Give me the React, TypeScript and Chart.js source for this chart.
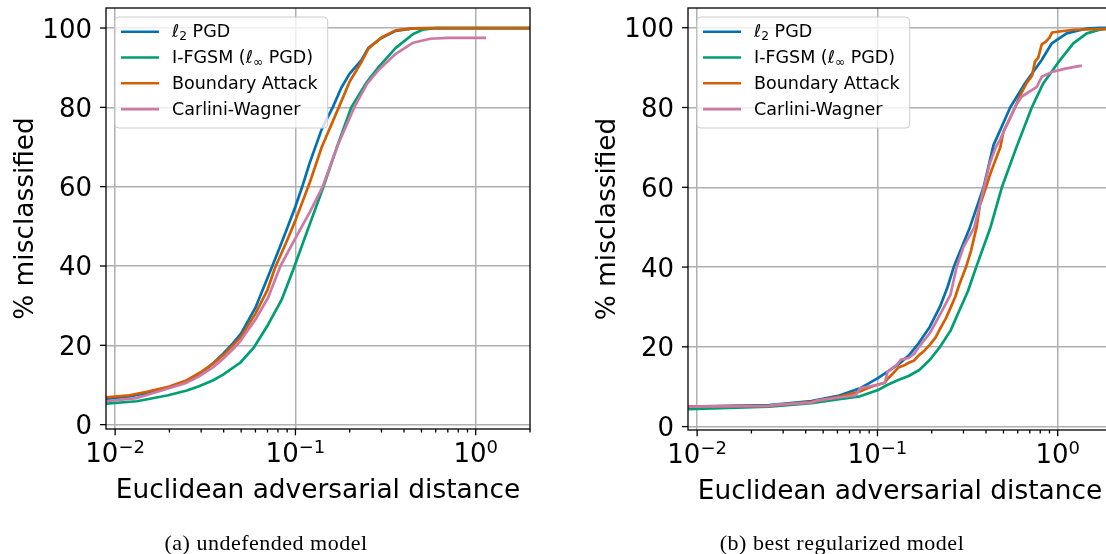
import React, { useEffect, useRef } from "react";
import { Chart, registerables } from "chart.js";
Chart.register(...registerables);

// ---------- data ----------
const SERIES_NAMES = ["ℓ2 PGD", "I-FGSM (ℓ∞ PGD)", "Boundary Attack", "Carlini-Wagner"];
const COLORS = ["#0072B2", "#009E73", "#D55E00", "#CC79A7"];
const Y_TICKS = [0, 20, 40, 60, 80, 100];
const X_MAJOR = [0.01, 0.1, 1];
const X_MAJOR_EXP = ["−2", "−1", "0"];
const X_MINOR = [0.02, 0.03, 0.04, 0.05, 0.06, 0.07, 0.08, 0.09, 0.2, 0.3, 0.4, 0.5, 0.6, 0.7, 0.8, 0.9, 2];
const X_TITLE = "Euclidean adversarial distance";
const Y_TITLE = "% misclassified";
const CAPTIONS = ["(a) undefended model", "(b) best regularized model"];

// (a) undefended model
const A_L2_X = [0.0089, 0.012, 0.015, 0.02, 0.025, 0.03, 0.035, 0.04, 0.045, 0.05, 0.06, 0.07, 0.08, 0.09, 0.1, 0.11, 0.12, 0.14, 0.161, 0.18, 0.2, 0.233, 0.254, 0.3, 0.36, 0.45, 0.6, 2];
const A_L2_Y = [6.5, 7.1, 8.0, 9.5, 11.0, 13.0, 15.5, 18.0, 20.5, 23.0, 29.5, 37.0, 43.5, 49.5, 55.0, 60.5, 66.0, 74.5, 80.0, 85.0, 88.5, 92.0, 95.0, 97.5, 99.3, 99.9, 100, 100];
const A_FGSM_X = [0.0089, 0.0132, 0.0197, 0.025, 0.0292, 0.035, 0.0397, 0.0494, 0.0589, 0.0705, 0.0839, 0.098, 0.12, 0.143, 0.17, 0.204, 0.25, 0.29, 0.36, 0.45, 0.51, 0.6, 2];
const A_FGSM_Y = [5.3, 5.9, 7.4, 8.6, 9.7, 11.2, 12.6, 15.6, 19.5, 25.2, 31.5, 39.5, 50.5, 60.0, 70.0, 80.0, 86.5, 90.2, 95.0, 98.5, 99.6, 100, 100];
const A_BA_X = [0.0089, 0.012, 0.015, 0.02, 0.025, 0.03, 0.035, 0.04, 0.045, 0.05, 0.06, 0.07, 0.077, 0.09, 0.1, 0.12, 0.14, 0.174, 0.2, 0.233, 0.254, 0.3, 0.36, 0.45, 0.6, 2];
const A_BA_Y = [6.9, 7.4, 8.3, 9.6, 11.2, 13.3, 15.4, 17.6, 20.0, 22.2, 28.0, 34.0, 39.5, 46.5, 51.5, 61.0, 70.0, 80.0, 86.5, 91.5, 94.8, 97.6, 99.4, 99.9, 100, 100];
const A_CW_X = [0.0089, 0.0132, 0.0197, 0.025, 0.0292, 0.035, 0.0397, 0.045, 0.0494, 0.06, 0.0705, 0.0826, 0.1, 0.12, 0.1416, 0.17, 0.212, 0.25, 0.29, 0.36, 0.45, 0.56, 0.7, 1.14];
const A_CW_Y = [5.9, 6.7, 9.1, 10.6, 12.2, 14.5, 16.6, 19.0, 21.0, 26.5, 32.0, 40.0, 47.0, 53.5, 60.0, 70.0, 80.0, 86.0, 89.5, 93.5, 96.3, 97.3, 97.5, 97.5];

// (b) best regularized model
const B_L2_X = [0.0089, 0.0251, 0.043, 0.0614, 0.08, 0.1, 0.114, 0.1305, 0.149, 0.17, 0.195, 0.222, 0.245, 0.265, 0.326, 0.388, 0.44, 0.545, 0.659, 0.815, 0.927, 1.12, 1.45, 1.7, 2];
const B_L2_Y = [5.0, 5.4, 6.4, 7.8, 9.6, 12.1, 13.8, 15.6, 17.8, 21.0, 25.0, 30.0, 35.0, 40.0, 50.0, 60.0, 70.5, 80.0, 86.1, 91.9, 96.1, 98.6, 99.8, 100, 100];
const B_FGSM_X = [0.0089, 0.0251, 0.043, 0.0614, 0.08, 0.1, 0.114, 0.1305, 0.149, 0.1706, 0.195, 0.2225, 0.254, 0.284, 0.318, 0.353, 0.424, 0.49, 0.59, 0.718, 0.832, 1.03, 1.22, 1.45, 1.71, 2];
const B_FGSM_Y = [4.4, 5.0, 5.9, 6.9, 7.6, 9.1, 10.5, 11.7, 12.7, 14.2, 16.7, 20.0, 24.0, 29.0, 34.0, 40.0, 50.0, 60.0, 70.0, 80.0, 86.1, 91.9, 96.1, 98.6, 99.5, 99.9];
const B_BA_X = [0.0089, 0.025, 0.043, 0.0614, 0.08, 0.09, 0.1, 0.11, 0.114, 0.12, 0.1305, 0.14, 0.149, 0.16, 0.1706, 0.18, 0.195, 0.21, 0.2225, 0.24, 0.254, 0.27, 0.284, 0.31, 0.33, 0.355, 0.37, 0.4, 0.42, 0.44, 0.48, 0.5, 0.54, 0.58, 0.618, 0.67, 0.72, 0.748, 0.78, 0.815, 0.86, 0.9, 0.93, 1.0, 1.22, 2];
const B_BA_Y = [5.0, 5.2, 6.2, 7.5, 8.8, 9.8, 10.5, 11.0, 12.0, 13.0, 14.8, 15.3, 16.0, 16.6, 18.0, 18.8, 20.5, 22.3, 24.5, 27.2, 29.7, 32.5, 35.5, 40.0, 44.0, 50.0, 55.5, 60.0, 63.0, 65.5, 70.0, 74.0, 77.0, 80.0, 83.0, 86.0, 88.0, 91.5, 92.5, 95.8, 96.5, 97.5, 98.8, 99.0, 99.5, 99.7];
const B_CW_X = [0.0089, 0.0251, 0.028, 0.043, 0.046, 0.0614, 0.075, 0.078, 0.08, 0.1, 0.11, 0.112, 0.114, 0.128, 0.135, 0.149, 0.16, 0.17, 0.195, 0.222, 0.254, 0.275, 0.3, 0.345, 0.39, 0.42, 0.453, 0.48, 0.58, 0.63, 0.766, 0.815, 0.94, 1.12, 1.36];
const B_CW_Y = [5.0, 5.2, 5.5, 6.0, 6.5, 7.3, 7.8, 8.6, 9.6, 10.5, 11.0, 12.5, 13.8, 15.5, 16.8, 17.2, 18.3, 20.0, 23.4, 28.0, 33.0, 40.0, 45.0, 50.0, 60.0, 66.0, 70.0, 72.0, 80.2, 82.7, 85.2, 87.7, 89.0, 89.8, 90.5];

// ---------- styles ----------
const FONT = '"DejaVu Sans", sans-serif';
const TICK_FS = 26;
const SUP_FS = 18;
const TITLE_FS = 26.4;
const LEG_FS = 17.5;
const H = 554;

type Seg = { t: string; sub?: boolean };
const LEGEND_RICH: Seg[][] = [
  [{ t: "ℓ" }, { t: "2", sub: true }, { t: " PGD" }],
  [{ t: "I-FGSM (ℓ" }, { t: "∞", sub: true }, { t: " PGD)" }],
  [{ t: "Boundary Attack" }],
  [{ t: "Carlini-Wagner" }],
];

function zip(xs: number[], ys: number[]) {
  return xs.map((x, i) => ({ x, y: ys[i] }));
}

function drawRich(ctx: CanvasRenderingContext2D, segs: Seg[], x: number, y: number, measureOnly = false) {
  let cx = x;
  for (const s of segs) {
    const fs = s.sub ? LEG_FS * 0.7 : LEG_FS;
    ctx.font = `${fs}px ${FONT}`;
    if (!measureOnly) ctx.fillText(s.t, cx, s.sub ? y + LEG_FS * 0.22 : y);
    cx += ctx.measureText(s.t).width;
  }
  return cx - x;
}

const decorPlugin = {
  id: "decor",
  afterDraw(chart: any) {
    const { ctx, chartArea: a, scales } = chart;
    const xs = scales.x, ys = scales.y;
    ctx.save();
    ctx.strokeStyle = "#000";
    ctx.fillStyle = "#000";
    ctx.lineWidth = 1.3;
    // y ticks + labels
    ctx.font = `${TICK_FS}px ${FONT}`;
    ctx.textAlign = "right";
    ctx.textBaseline = "alphabetic";
    for (const v of Y_TICKS) {
      const py = ys.getPixelForValue(v);
      ctx.beginPath(); ctx.moveTo(a.left - 6, py); ctx.lineTo(a.left, py); ctx.stroke();
      ctx.fillText(String(v), a.left - 14, py + TICK_FS * 0.3645);
    }
    // x minor ticks
    for (const v of X_MINOR) {
      const px = xs.getPixelForValue(v);
      if (px < a.left - 0.5 || px > a.right + 0.5) continue;
      ctx.beginPath(); ctx.moveTo(px, a.bottom); ctx.lineTo(px, a.bottom + 3.5); ctx.stroke();
    }
    // x major ticks + labels
    ctx.textAlign = "left";
    X_MAJOR.forEach((v, i) => {
      const px = xs.getPixelForValue(v);
      ctx.beginPath(); ctx.moveTo(px, a.bottom); ctx.lineTo(px, a.bottom + 6.3); ctx.stroke();
      ctx.font = `${TICK_FS}px ${FONT}`;
      const w1 = ctx.measureText("10").width;
      ctx.font = `${SUP_FS}px ${FONT}`;
      const w2 = ctx.measureText(X_MAJOR_EXP[i]).width;
      const x0 = px - (w1 + w2) / 2;
      const base = a.bottom + 33;
      ctx.font = `${TICK_FS}px ${FONT}`;
      ctx.fillText("10", x0, base);
      ctx.font = `${SUP_FS}px ${FONT}`;
      ctx.fillText(X_MAJOR_EXP[i], x0 + w1, base - 9);
    });
    // spines
    ctx.lineWidth = 1.3;
    ctx.strokeRect(a.left, a.top, a.right - a.left, a.bottom - a.top);
    // titles
    ctx.font = `${TITLE_FS}px ${FONT}`;
    ctx.textAlign = "center";
    ctx.fillText(X_TITLE, (a.left + a.right) / 2, a.bottom + 69);
    ctx.save();
    ctx.translate(a.left - 73, (a.top + a.bottom) / 2);
    ctx.rotate(-Math.PI / 2);
    ctx.fillText(Y_TITLE, 0, 0);
    ctx.restore();
    // legend
    ctx.textAlign = "left";
    ctx.textBaseline = "middle";
    let maxW = 0;
    for (const segs of LEGEND_RICH) maxW = Math.max(maxW, drawRich(ctx, segs, 0, 0, true));
    const bx = a.left + 9, by = a.top + 9;
    const bw = 66 - 9 + maxW + 10;
    const bh = 111;
    ctx.beginPath();
    ctx.roundRect(bx, by, bw, bh, 4);
    ctx.fillStyle = "rgba(255,255,255,0.8)";
    ctx.fill();
    ctx.strokeStyle = "#cccccc";
    ctx.lineWidth = 1;
    ctx.stroke();
    LEGEND_RICH.forEach((segs, i) => {
      const ry = a.top + 23.7 + i * 25.8;
      ctx.strokeStyle = COLORS[i];
      ctx.lineWidth = 2.6;
      ctx.beginPath(); ctx.moveTo(a.left + 15, ry); ctx.lineTo(a.left + 53, ry); ctx.stroke();
      ctx.fillStyle = "#000";
      drawRich(ctx, segs, a.left + 66, ry + 1);
    });
    ctx.restore();
  },
};

type PanelProps = {
  series: { x: number[]; y: number[] }[];
  width: number;
  left: number;
  right: number;
  top: number;
  bottom: number;
  yMin: number;
  yMax: number;
};

function Panel(p: PanelProps) {
  const ref = useRef<HTMLCanvasElement>(null);
  useEffect(() => {
    if (!ref.current) return;
    const chart = new Chart(ref.current, {
      type: "line",
      data: {
        datasets: p.series.map((s, i) => ({
          label: SERIES_NAMES[i],
          data: zip(s.x, s.y),
          borderColor: COLORS[i],
          backgroundColor: COLORS[i],
          borderWidth: 2.7,
          pointRadius: 0,
          tension: 0,
          fill: false,
          borderJoinStyle: "round",
          order: 4 - i,
        })),
      },
      options: {
        responsive: false,
        animation: false,
        events: [],
        layout: { padding: { left: 0, top: p.top, right: p.width - p.right, bottom: 0 } },
        plugins: { legend: { display: false }, tooltip: { enabled: false } },
        scales: {
          x: {
            type: "logarithmic",
            min: 0.0089,
            max: 2,
            afterBuildTicks: (s: any) => {
              s.ticks = [...X_MAJOR, ...X_MINOR].map((v) => ({ value: v, major: X_MAJOR.includes(v) }));
            },
            afterFit: (s: any) => { s.height = H - p.bottom; },
            ticks: { display: false },
            border: { display: false },
            grid: {
              drawTicks: false,
              lineWidth: 1.5,
              color: (c: any) => (c.tick && X_MAJOR.includes(c.tick.value) ? "#b0b0b0" : "rgba(0,0,0,0)"),
            },
          },
          y: {
            type: "linear",
            min: p.yMin,
            max: p.yMax,
            afterBuildTicks: (s: any) => { s.ticks = Y_TICKS.map((v) => ({ value: v })); },
            afterFit: (s: any) => { s.width = p.left; },
            ticks: { display: false },
            border: { display: false },
            grid: { drawTicks: false, lineWidth: 1.5, color: "#b0b0b0" },
          },
        },
      },
      plugins: [decorPlugin],
    } as any);
    return () => chart.destroy();
  }, []);
  return <canvas ref={ref} width={p.width} height={H} style={{ display: "block", width: p.width, height: H }} />;
}

export default function App() {
  const capStyle: React.CSSProperties = {
    position: "absolute",
    top: 529,
    width: 400,
    textAlign: "center",
    fontFamily: '"Liberation Serif", serif',
    fontSize: 22,
    lineHeight: "28px",
    letterSpacing: 0.5,
    color: "#000",
    whiteSpace: "nowrap",
  };
  return (
    <div style={{ position: "absolute", left: 0, top: 0, width: 1106, height: 554, overflow: "hidden", background: "#fff" }}>
      <div style={{ position: "absolute", left: 0, top: 0 }}>
        <Panel
          series={[{ x: A_L2_X, y: A_L2_Y }, { x: A_FGSM_X, y: A_FGSM_Y }, { x: A_BA_X, y: A_BA_Y }, { x: A_CW_X, y: A_CW_Y }]}
          width={553}
          left={106}
          right={530}
          top={8}
          bottom={429}
          yMin={-1.1}
          yMax={105.05}
        />
      </div>
      <div style={{ position: "absolute", left: 553, top: 0 }}>
        <Panel
          series={[{ x: B_L2_X, y: B_L2_Y }, { x: B_FGSM_X, y: B_FGSM_Y }, { x: B_BA_X, y: B_BA_Y }, { x: B_CW_X, y: B_CW_Y }]}
          width={580}
          left={135}
          right={559}
          top={8}
          bottom={430}
          yMin={-0.85}
          yMax={104.95}
        />
      </div>
      <div style={{ ...capStyle, left: 266 - 200 }}>{CAPTIONS[0]}</div>
      <div style={{ ...capStyle, left: 842 - 200 }}>{CAPTIONS[1]}</div>
    </div>
  );
}
